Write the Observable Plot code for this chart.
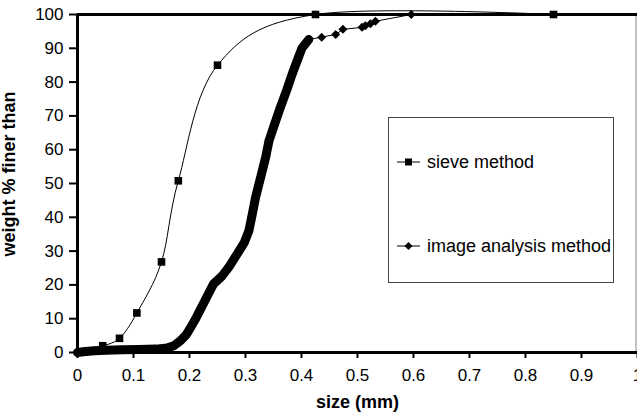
<!DOCTYPE html>
<html><head><meta charset="utf-8">
<script src="https://cdn.jsdelivr.net/npm/d3@7"></script>
<script src="https://cdn.jsdelivr.net/npm/@observablehq/plot@0.6"></script>
<style>
body{margin:0;background:#fff;}
#wrap{position:relative;width:637px;height:416px;font-family:"Liberation Sans",Arial,sans-serif;overflow:hidden;}
#legend{position:absolute;left:388px;top:117px;width:226px;height:166px;border:1px solid #444;background:#fff;box-sizing:border-box;}
.item{position:absolute;left:8px;display:flex;align-items:center;font-size:18px;line-height:1;transform:translateY(-50%);white-space:nowrap;color:#000;}
.item svg{margin-right:6px;}
</style></head><body><div id="wrap"><div id="legend"></div></div>
<script>
// sieve method (standard sieve sizes, mm) and cumulative % finer
const sieveSize = [0.045, 0.075, 0.106, 0.15, 0.18, 0.25, 0.425, 0.85];
const sievePct  = [2.0, 4.2, 11.7, 26.8, 50.8, 85.0, 100, 100];

// image analysis method
const imageSize = [0.0, 0.01, 0.03, 0.05, 0.08, 0.11, 0.14, 0.16, 0.172, 0.184, 0.194, 0.202, 0.211, 0.220, 0.232, 0.243, 0.258, 0.270, 0.285, 0.298, 0.306, 0.311, 0.318, 0.327, 0.336, 0.342, 0.351, 0.362, 0.374, 0.383, 0.392, 0.401, 0.413, 0.436, 0.461, 0.474, 0.508, 0.514, 0.523, 0.532, 0.596];
const imagePct  = [0.0, 0.2, 0.5, 0.7, 0.8, 0.9, 1.0, 1.3, 2.0, 3.5, 5.2, 7.4, 10.0, 12.9, 16.8, 20.3, 22.6, 25.2, 29.1, 32.6, 36.0, 40.0, 45.9, 51.8, 57.7, 62.7, 67.1, 72.4, 77.8, 82.2, 86.2, 90.1, 92.6, 93.3, 94.1, 95.6, 96.2, 96.7, 97.3, 98.0, 100];

const xTicks = [0, 0.1, 0.2, 0.3, 0.4, 0.5, 0.6, 0.7, 0.8, 0.9, 1];
const yTicks = [0, 10, 20, 30, 40, 50, 60, 70, 80, 90, 100];
const seriesNames = ["sieve method", "image analysis method"];
const xTitle = "size (mm)";
const yTitle = "weight % finer than";

const sieve = sieveSize.map((x, i) => ({x, y: sievePct[i]}));
const image = imageSize.map((x, i) => ({x, y: imagePct[i]}));
const dense = image.filter(d => d.x <= 0.415);

const diamond = {draw(ctx, size) { const h = Math.sqrt(size / Math.PI); ctx.moveTo(0, -h); ctx.lineTo(h, 0); ctx.lineTo(0, h); ctx.lineTo(-h, 0); ctx.closePath(); }};
const square = {draw(ctx, size) { const h = Math.sqrt(size / Math.PI); ctx.rect(-h, -h, 2 * h, 2 * h); }};

const chart = Plot.plot({
  width: 637, height: 416,
  marginLeft: 77, marginRight: 0, marginTop: 14, marginBottom: 64,
  x: {domain: [0, 1]},
  y: {domain: [0, 100]},
  style: {fontFamily: "'Liberation Sans', Arial, sans-serif", fontSize: "17px", background: "white", color: "black", overflow: "visible"},
  marks: [
    Plot.ruleX([1], {stroke: "#888", strokeWidth: 1, dx: -1.5}),
    Plot.line(dense, {x: "x", y: "y", stroke: "black", strokeWidth: 9, strokeLinejoin: "round", strokeLinecap: "round"}),
    Plot.line(image, {x: "x", y: "y", stroke: "black", strokeWidth: 1}),
    Plot.dot(image, {x: "x", y: "y", symbol: diamond, r: 4.5, fill: "black", stroke: "none"}),
    Plot.line(sieve, {x: "x", y: "y", curve: "cardinal", stroke: "black", strokeWidth: 1}),
    Plot.dot(sieve, {x: "x", y: "y", symbol: square, r: 3.8, fill: "black", stroke: "none"}),
    Plot.ruleY([0], {stroke: "black", strokeWidth: 3}),
    Plot.ruleX([0], {stroke: "black", strokeWidth: 3}),
    Plot.ruleY([100], {stroke: "black", strokeWidth: 3}),
    Plot.axisX({ticks: xTicks, tickFormat: d => String(+d.toFixed(1)), tickSize: 6, tickPadding: 10, strokeWidth: 2, label: null, fontSize: 17}),
    Plot.axisY({ticks: yTicks, tickSize: 8, tickPadding: 6, strokeWidth: 2, label: null, fontSize: 17}),
    Plot.text([xTitle], {frameAnchor: "bottom", textAnchor: "middle", dy: 55, fontWeight: "bold", fontSize: 18, fill: "black"}),
    Plot.text([yTitle], {frameAnchor: "left", textAnchor: "middle", rotate: -90, dx: -68, dy: -9.5, fontWeight: "bold", fontSize: 18, fill: "black"})
  ]
});
const wrap = document.getElementById("wrap");
wrap.insertBefore(chart, wrap.firstChild);

const legend = document.getElementById("legend");
const centers = [44, 128];
const markers = [
  '<svg width="24" height="10"><line x1="0" y1="5" x2="23" y2="5" stroke="black" stroke-width="1"/><rect x="8" y="1.5" width="7" height="7" fill="black"/></svg>',
  '<svg width="24" height="10"><line x1="0" y1="5" x2="23" y2="5" stroke="black" stroke-width="1"/><path d="M11.5,1 L15.5,5 L11.5,9 L7.5,5 Z" fill="black"/></svg>'
];
seriesNames.forEach((name, i) => {
  const div = document.createElement("div");
  div.className = "item";
  div.style.top = centers[i] + "px";
  div.innerHTML = markers[i] + "<span>" + name + "</span>";
  legend.appendChild(div);
});
</script>
</body></html>
